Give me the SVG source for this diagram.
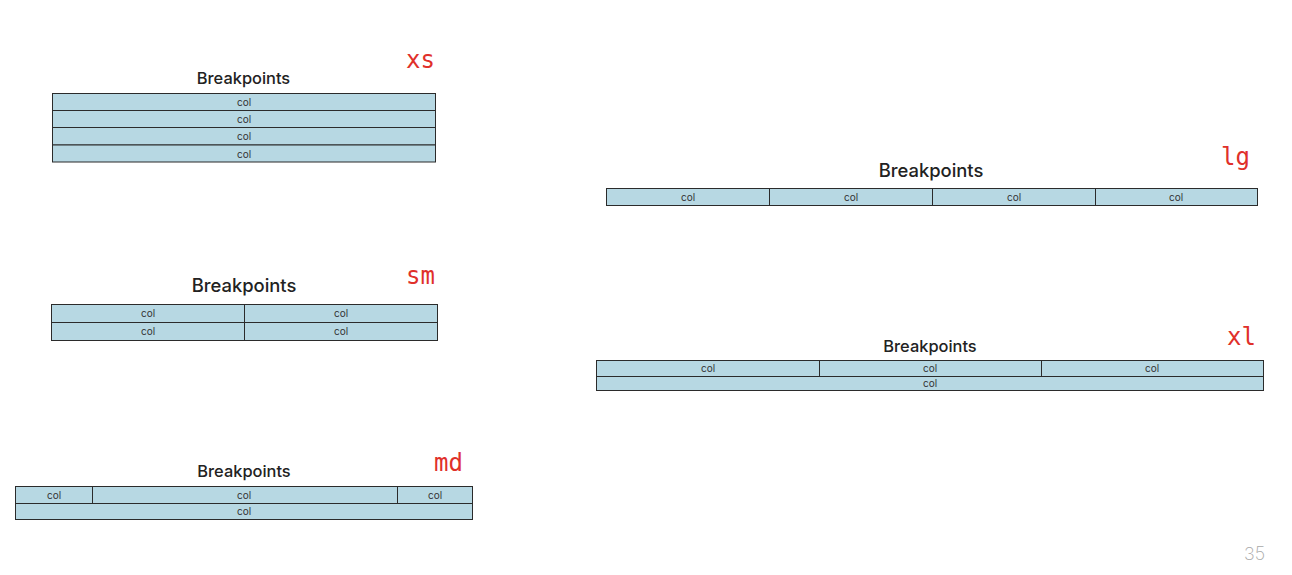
<svg xmlns="http://www.w3.org/2000/svg" width="1292" height="575" viewBox="0 0 1292 575">
<style>
.bg{fill:#ffffff}
.cell{fill:#b7d8e3;stroke:#2b2b2b;stroke-width:1}
.col{font-family:Inter,"Liberation Sans",Arial,sans-serif;font-size:10px;fill:#333;text-anchor:middle}
.title{font-family:Inter,"Liberation Sans",sans-serif;font-weight:500;fill:#222;text-anchor:middle}
.bp{font-family:"DejaVu Sans Mono","Liberation Mono",monospace;font-size:24px;fill:#e0302a}
.page{font-family:Inter,"Liberation Sans",sans-serif;font-weight:200;font-size:18px;fill:#a8a8a8}
</style>
<rect class="bg" width="1292" height="575"/>
<g id="xs">
<text class="title" x="243.5" y="84" font-size="16.4">Breakpoints</text>
<text class="bp" x="406" y="68">xs</text>
<rect class="cell" x="52.5" y="93.5" width="383" height="17"/>
<rect class="cell" x="52.5" y="110.5" width="383" height="17"/>
<rect class="cell" x="52.5" y="127.5" width="383" height="17.5"/>
<rect class="cell" x="52.5" y="145" width="383" height="17"/>
<text class="col" x="244" y="106">col</text>
<text class="col" x="244" y="123">col</text>
<text class="col" x="244" y="140">col</text>
<text class="col" x="244" y="158">col</text>
</g>
<g id="sm">
<text class="title" x="244" y="292" font-size="18.4">Breakpoints</text>
<text class="bp" x="406" y="284">sm</text>
<rect class="cell" x="51.5" y="304.5" width="193" height="18"/>
<rect class="cell" x="244.5" y="304.5" width="193" height="18"/>
<rect class="cell" x="51.5" y="322.5" width="193" height="18"/>
<rect class="cell" x="244.5" y="322.5" width="193" height="18"/>
<text class="col" x="148" y="317">col</text>
<text class="col" x="341" y="317">col</text>
<text class="col" x="148" y="335">col</text>
<text class="col" x="341" y="335">col</text>
</g>
<g id="md">
<text class="title" x="244" y="477" font-size="16.4">Breakpoints</text>
<text class="bp" x="434" y="471">md</text>
<rect class="cell" x="15.5" y="486.5" width="77" height="17"/>
<rect class="cell" x="92.5" y="486.5" width="305" height="17"/>
<rect class="cell" x="397.5" y="486.5" width="75" height="17"/>
<rect class="cell" x="15.5" y="503.5" width="457" height="16"/>
<text class="col" x="54" y="499">col</text>
<text class="col" x="244" y="499">col</text>
<text class="col" x="435" y="499">col</text>
<text class="col" x="244" y="515">col</text>
</g>
<g id="lg">
<text class="title" x="931" y="177" font-size="18.4">Breakpoints</text>
<text class="bp" x="1221" y="165">lg</text>
<rect class="cell" x="606.5" y="188.5" width="163" height="17"/>
<rect class="cell" x="769.5" y="188.5" width="163" height="17"/>
<rect class="cell" x="932.5" y="188.5" width="163" height="17"/>
<rect class="cell" x="1095.5" y="188.5" width="162" height="17"/>
<text class="col" x="688" y="201">col</text>
<text class="col" x="851" y="201">col</text>
<text class="col" x="1014" y="201">col</text>
<text class="col" x="1176" y="201">col</text>
</g>
<g id="xl">
<text class="title" x="930" y="352" font-size="16.4">Breakpoints</text>
<text class="bp" x="1227" y="345">xl</text>
<rect class="cell" x="596.5" y="360.5" width="223" height="16"/>
<rect class="cell" x="819.5" y="360.5" width="222" height="16"/>
<rect class="cell" x="1041.5" y="360.5" width="222" height="16"/>
<rect class="cell" x="596.5" y="376.5" width="667" height="14"/>
<text class="col" x="708" y="372">col</text>
<text class="col" x="930" y="372">col</text>
<text class="col" x="1152" y="372">col</text>
<text class="col" x="930" y="387">col</text>
</g>
<g id="connectors"></g>
<text class="page" x="1244" y="560">35</text>
</svg>
